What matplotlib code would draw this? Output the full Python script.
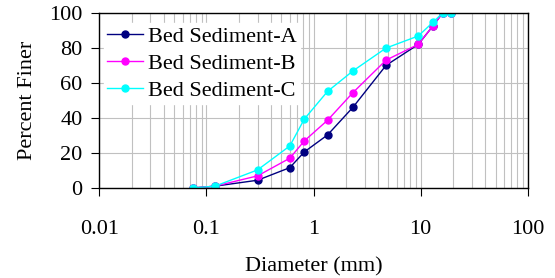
import matplotlib
matplotlib.use('Agg')
import matplotlib.pyplot as plt
from matplotlib.ticker import LogLocator, FixedLocator, NullFormatter

diameter = [0.075, 0.12, 0.3, 0.6, 0.82, 1.35, 2.33, 4.75, 9.5, 13.0, 16.0, 19.0]
sed_a = [0, 1, 4.4, 11.6, 20.6, 30.3, 46.1, 70.1, 82.1, 92.6, 100, 100]
sed_b = [0, 1, 6.9, 17.0, 26.9, 38.7, 54.5, 73.1, 82.1, 92.6, 100, 100]
sed_c = [0, 1, 10.3, 24.0, 39.4, 55.2, 66.9, 80.0, 86.9, 94.7, 100, 100]
labels = ['Bed Sediment-A', 'Bed Sediment-B', 'Bed Sediment-C']

plt.rcParams['font.family'] = 'Liberation Serif'
fs = 16

fig = plt.figure(figsize=(5.55, 2.78), dpi=100)
ax = fig.add_axes([0.179, 0.324, 0.772, 0.629])

ax.plot(diameter, sed_a, '-o', color='#000080', ms=5, lw=1, label=labels[0])
ax.plot(diameter, sed_b, '-o', color='#ff00ff', ms=5, lw=1, label=labels[1])
ax.plot(diameter, sed_c, '-o', color='#00ffff', ms=5, lw=1, label=labels[2])

ax.set_xscale('log')
ax.set_xlim(0.01, 100)
ax.set_ylim(0, 100)
ax.xaxis.set_major_locator(FixedLocator([0.01, 0.1, 1, 10, 100]))
ax.set_xticklabels(['0.01', '0.1', '1', '10', '100'])
ax.xaxis.set_minor_locator(LogLocator(base=10, subs=range(2, 10)))
ax.xaxis.set_minor_formatter(NullFormatter())
ax.set_yticks([0, 20, 40, 60, 80, 100])

ax.grid(True, which='both', axis='x', color='#c0c0c0', lw=0.8)
ax.grid(True, which='major', axis='y', color='#c0c0c0', lw=0.8)
ax.set_axisbelow(True)
ax.tick_params(axis='both', which='major', labelsize=fs, length=6, direction='out')
ax.tick_params(axis='x', which='minor', length=0)
ax.tick_params(axis='x', pad=17)
ax.tick_params(axis='y', pad=6)
for s in ax.spines.values():
    s.set_linewidth(1)

ax.set_xlabel('Diameter (mm)', fontsize=fs, labelpad=13)
ax.set_ylabel('Percent Finer', fontsize=fs, labelpad=9)

leg = ax.legend(loc='upper left', fontsize=fs, frameon=True, framealpha=1,
                edgecolor='white', fancybox=False, handlelength=1.6,
                borderpad=0.15, labelspacing=0.3, handletextpad=0.25,
                borderaxespad=0.2, bbox_to_anchor=(0.0, 0.97))

fig.savefig('out.png', dpi=100)
